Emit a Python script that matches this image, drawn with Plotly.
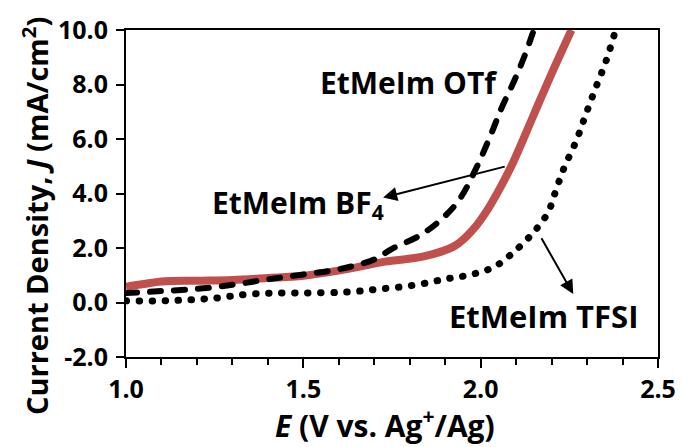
import plotly.graph_objects as go

# Linear sweep voltammetry: current density vs potential for three ionic liquids
E_otf = [1.00, 1.05, 1.10, 1.20, 1.30, 1.40, 1.50, 1.60, 1.70, 1.75, 1.83, 1.89,
         1.94, 1.99, 2.03, 2.06, 2.094, 2.122, 2.15]
J_otf = [0.35, 0.38, 0.42, 0.50, 0.65, 0.85, 1.03, 1.22, 1.58, 1.97, 2.47, 3.06,
         3.78, 5.00, 6.20, 7.17, 8.12, 8.99, 10.0]

E_bf4 = [1.00, 1.05, 1.10, 1.20, 1.30, 1.40, 1.50, 1.62, 1.73, 1.84, 1.93, 1.98,
         2.02, 2.058, 2.09, 2.15, 2.20, 2.256]
J_bf4 = [0.58, 0.68, 0.77, 0.80, 0.83, 0.90, 0.98, 1.22, 1.50, 1.69, 2.10, 2.70,
         3.42, 4.28, 5.10, 6.90, 8.40, 10.0]

E_tfsi = [1.00, 1.08, 1.15, 1.22, 1.26, 1.30, 1.34, 1.40, 1.50, 1.62, 1.71, 1.81,
          1.90, 1.975, 2.04, 2.095, 2.15, 2.19, 2.21, 2.233, 2.27, 2.297, 2.325,
          2.353, 2.378]
J_tfsi = [0.06, 0.06, 0.08, 0.13, 0.17, 0.24, 0.30, 0.34, 0.35, 0.38, 0.49, 0.63,
          0.86, 1.03, 1.32, 1.87, 2.59, 3.31, 4.03, 4.87, 5.95, 6.92, 7.90,
          8.84, 9.89]

x_ticks = [1.0, 1.5, 2.0, 2.5]
y_ticks = [-2.0, 0.0, 2.0, 4.0, 6.0, 8.0, 10.0]

FONT = "Open Sans"
RED = "#c0504d"

fig = go.Figure()
fig.add_trace(go.Scatter(x=E_bf4, y=J_bf4, mode="lines", name="EtMeIm BF4",
                         line=dict(color=RED, width=8, shape="spline", smoothing=1.0)))
fig.add_trace(go.Scatter(x=E_otf, y=J_otf, mode="lines", name="EtMeIm OTf",
                         line=dict(color="black", width=6, dash="11px,13px",
                                   shape="spline", smoothing=1.0)))
fig.add_trace(go.Scatter(x=E_tfsi, y=J_tfsi, mode="lines", name="EtMeIm TFSI",
                         line=dict(color="black", width=7, dash="0.5px,12.5px",
                                   shape="spline", smoothing=1.0)))

lab = dict(family=FONT, size=30, color="black", weight="bold")

fig.add_annotation(x=1.797, y=8.08, text="EtMeIm OTf", showarrow=False, font=lab)
fig.add_annotation(x=1.237, y=3.6, xanchor="left", text="EtMeIm BF<sub>4</sub>",
                   showarrow=False, font=lab)
fig.add_annotation(x=2.178, y=-0.5, text="EtMeIm TFSI", showarrow=False,
                   font=dict(family=FONT, size=31, color="black", weight="bold"))

# Pointer arrows
fig.add_annotation(x=1.725, y=3.85, ax=2.072, ay=5.0, axref="x", ayref="y",
                   xref="x", yref="y", text="", showarrow=True,
                   arrowhead=2, arrowsize=1.4, arrowwidth=2, arrowcolor="black")
fig.add_annotation(x=2.261, y=0.31, ax=2.169, ay=2.41, axref="x", ayref="y",
                   xref="x", yref="y", text="", showarrow=True,
                   arrowhead=2, arrowsize=1.4, arrowwidth=2, arrowcolor="black")

# Axis titles
fig.add_annotation(xref="paper", yref="paper", x=0.487, y=-0.277, yanchor="bottom",
                   text="<i>E</i> (V vs. Ag<sup>+</sup>/Ag)", showarrow=False,
                   font=dict(family=FONT, size=30, color="black", weight="bold"))
fig.add_annotation(xref="paper", yref="paper", x=-0.213, xanchor="left",
                   y=0.43, yanchor="middle", textangle=-90,
                   text="Current Density, <i>J</i> (mA/cm<sup>2</sup>)", showarrow=False,
                   font=dict(family=FONT, size=29, color="black", weight="bold"))

axis_font = dict(family=FONT, size=25, color="black", weight="bold")

fig.update_xaxes(range=[1.0, 2.5], tickvals=x_ticks, ticktext=[f"{v:.1f}" for v in x_ticks],
                 ticks="outside", ticklen=9, tickwidth=2, tickcolor="black",
                 minor=dict(dtick=0.1, ticks="outside", ticklen=6, tickwidth=2, tickcolor="black"),
                 showline=True, linewidth=2, linecolor="black", mirror=True,
                 showgrid=False, zeroline=False, tickfont=axis_font)
fig.update_yaxes(range=[-2.0, 10.0], tickvals=y_ticks, ticktext=[f"{v:.1f}" for v in y_ticks],
                 ticks="outside", ticklen=8, tickwidth=2, tickcolor="black",
                 ticklabelstandoff=3,
                 showline=True, linewidth=2, linecolor="black", mirror=True,
                 showgrid=False, zeroline=False, tickfont=axis_font)

fig.update_layout(width=688, height=447, showlegend=False,
                  margin=dict(l=126, r=22, t=25, b=90),
                  paper_bgcolor="white", plot_bgcolor="white")

# Round caps so the dashed/dotted strokes look like pills and dots
js = """
var gd = document.getElementById('{plot_id}');
function roundCaps(){
  var lines = gd.querySelectorAll('.scatterlayer .trace .js-line');
  for (var i = 1; i < lines.length; i++) { lines[i].style.strokeLinecap = 'round'; }
}
roundCaps();
gd.on('plotly_afterplot', roundCaps);
"""
fig.write_html("out.html", post_script=js)
